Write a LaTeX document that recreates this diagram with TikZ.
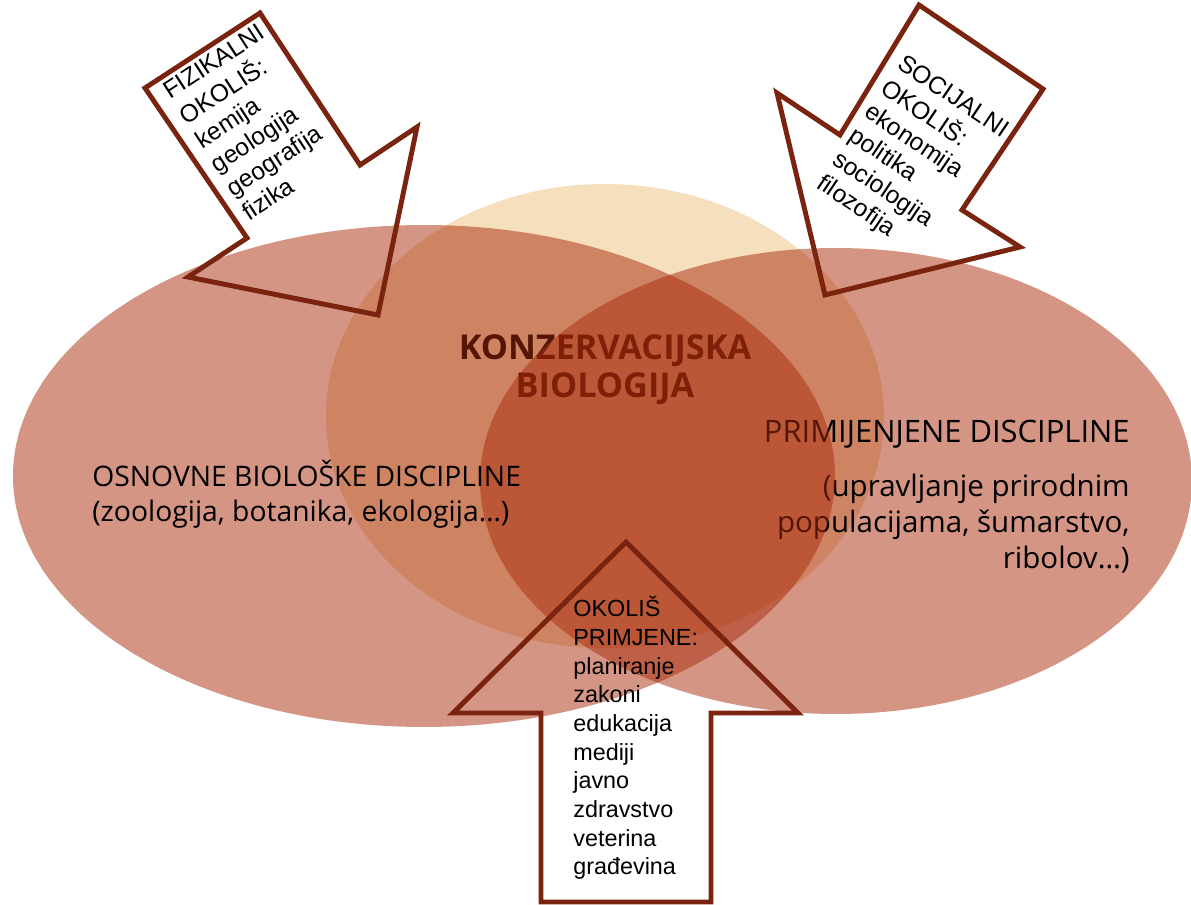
\documentclass[tikz,border=0pt]{standalone}
\usepackage{fontspec}
\setmainfont{Open Sans}
\newfontfamily\arialf{Liberation Sans}
\definecolor{ellc}{HTML}{A92B0B}
\definecolor{circc}{HTML}{F5DFBD}
\definecolor{arrc}{HTML}{7A2410}
\begin{document}
\begin{tikzpicture}[x=0.02cm,y=-0.02cm,
  circfill/.style={fill=circc},
  ellfill/.style={fill=ellc, fill opacity=0.5},
  arrowline/.style={draw=arrc, line width=2.8pt, line join=miter},
  ctext/.style={inner sep=0pt, anchor=base, font=\bfseries\fontsize{19.5}{21.5}\selectfont},
  ltext/.style={inner sep=0pt, font=\fontsize{16.1}{19.8}\selectfont},
  ptext/.style={inner sep=0pt, font=\fontsize{17.6}{20.4}\selectfont},
  rtext/.style={inner sep=0pt, font=\fontsize{16.8}{20.4}\selectfont},
  atext/.style={inner sep=0pt, anchor=base west, font=\arialf\fontsize{14}{16.3}\selectfont},
  btext/.style={inner sep=0pt, anchor=base west, font=\arialf\fontsize{13.3}{16.3}\selectfont},
]
\useasboundingbox (0,0) rectangle (1191,905);
% circle
\fill[circfill] (605,416) ellipse [x radius=279, y radius=232];
% centre title (lies under the ellipses)
\node[ctext] (konz) at (605,360) {\begin{tabular}[t]{@{}c@{}}KONZERVACIJSKA\\BIOLOGIJA\end{tabular}};
% right ellipse
\fill[ellfill] (836,481) ellipse [x radius=356, y radius=233];
% right text
\node[ptext, anchor=base east] (prim) at (1130,443) {PRIMIJENJENE DISCIPLINE};
\node[rtext, anchor=base east] (upr) at (1130,497) {\begin{tabular}[t]{@{}r@{}}(upravljanje prirodnim\\populacijama, šumarstvo,\\ribolov…)\end{tabular}};
% left ellipse
\fill[ellfill] (424,476) ellipse [x radius=411, y radius=251];
% left text
\node[ltext, anchor=base west] (osn) at (92,487) {\begin{tabular}[t]{@{}l@{}}OSNOVNE BIOLOŠKE DISCIPLINE\\(zoologija, botanika, ekologija…)\end{tabular}};
% arrows
\draw[arrowline] (260,13) -- (145,88) -- (247,238) -- (188,277) -- (378,315) -- (417,127) -- (360,165) -- cycle;
\node[atext, rotate=33] (fiz) at (170,100) {\begin{tabular}[t]{@{}l@{}}FIZIKALNI\\OKOLIŠ:\\kemija\\geologija\\geografija\\fizika\end{tabular}};
\draw[arrowline] (919,5) -- (1043,89) -- (962,210) -- (1020,247) -- (825,295) -- (777,93) -- (840,135) -- cycle;
\node[atext, rotate=-34] (soc) at (896,67) {\begin{tabular}[t]{@{}l@{}}SOCIJALNI\\OKOLIŠ:\\ekonomija\\politika\\sociologija\\filozofija\end{tabular}};
\draw[arrowline] (626,542) -- (453,713) -- (541,713) -- (541,902) -- (711,902) -- (711,713) -- (798,713) -- cycle;
\node[btext] (okp) at (573,617) {\begin{tabular}[t]{@{}l@{}}OKOLIŠ\\PRIMJENE:\\planiranje\\zakoni\\edukacija\\mediji\\javno\\zdravstvo\\veterina\\građevina\end{tabular}};
\end{tikzpicture}
\end{document}
